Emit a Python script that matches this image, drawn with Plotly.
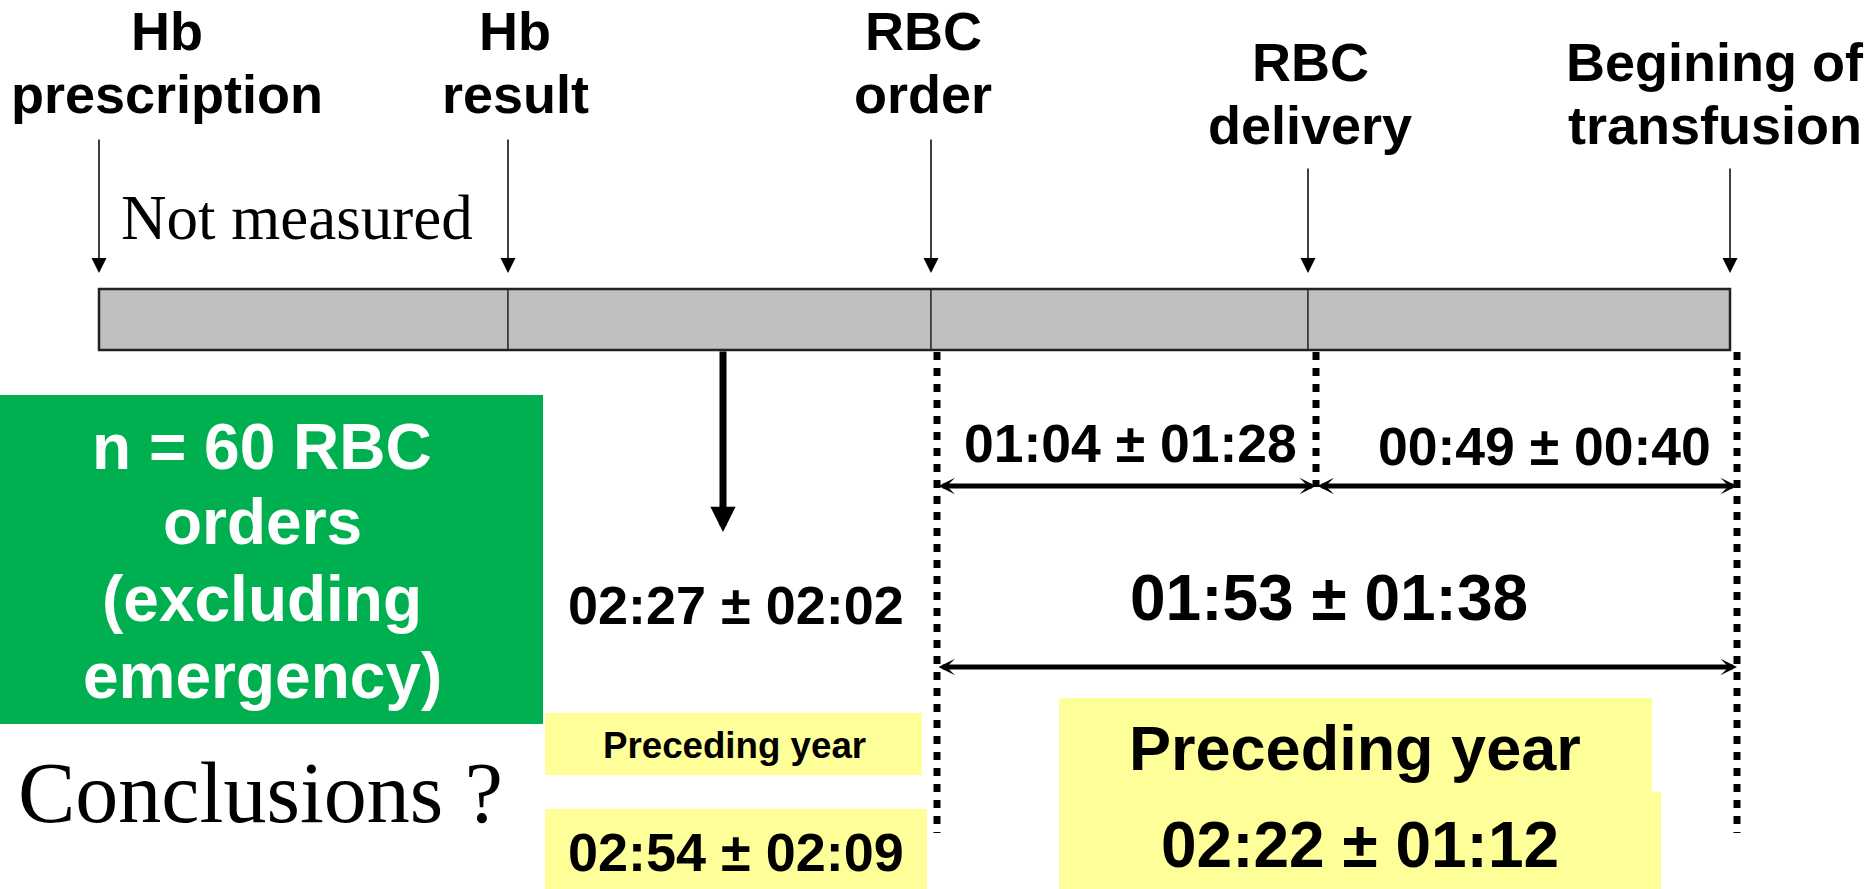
import plotly.graph_objects as go

# ---------------- data ----------------
event_top = ["Hb", "Hb", "RBC", "RBC", "Begining of"]
event_bottom = ["prescription", "result", "order", "delivery", "transfusion"]
segment_labels = ["Not measured", "02:27 \u00b1 02:02", "01:04 \u00b1 01:28", "00:49 \u00b1 00:40"]
total_label = "01:53 \u00b1 01:38"
sample_lines = ["n = 60 RBC", "orders", "(excluding", "emergency)"]
prev_small = ["Preceding year", "02:54 \u00b1 02:09"]
prev_big = ["Preceding year", "02:22 \u00b1 01:12"]
conclusion = "Conclusions ?"

# ---------------- layout geometry (pixels) ----------------
W, H = 1873, 889
event_x = [99, 508, 931, 1308, 1730]
label_x = [167, 515, 923, 1310, 1715]
label_y1 = [31, 31, 31, 62, 62]
label_y2 = [94, 94, 94, 125, 125]
arrow_top = [138, 138, 138, 167, 167]
arrow_tip = 273
bar_y0, bar_y1 = 289, 350
dot_x = [937, 1316, 1737]
dot_bottom = [833, 487, 833]
short_arrow_y = 486
long_arrow_y = 667

SANS = "Liberation Sans, Arial, sans-serif"
SERIF = "Liberation Serif, Times New Roman, serif"

fig = go.Figure()
fig.add_trace(go.Scatter(x=[0, W], y=[0, H], mode="markers", marker=dict(opacity=0), hoverinfo="skip"))

shapes = []
annotations = []


def text(x, y, s, size, family=SANS, color="black", bold=True):
    annotations.append(dict(
        x=x, y=y, xref="x", yref="y", text=s, showarrow=False,
        xanchor="center", yanchor="middle",
        font=dict(family=family, size=size, color=color, weight="bold" if bold else "normal"),
    ))


def arrow(x0, y0, x1, y1, width, size, head=2, both=False):
    annotations.append(dict(
        x=x1, y=y1, ax=x0, ay=y0, xref="x", yref="y", axref="x", ayref="y",
        text="", showarrow=True, arrowhead=head, arrowsize=size, arrowwidth=width,
        arrowcolor="black", arrowside="end+start" if both else "end",
        startarrowhead=head, startarrowsize=size,
    ))


def rect(x0, x1, y0, y1, color):
    shapes.append(dict(type="rect", xref="x", yref="y", x0=x0, x1=x1, y0=y0, y1=y1,
                       fillcolor=color, line=dict(width=0), layer="below"))


# green box
rect(0, 543, 395, 724, "#00B050")
# yellow boxes
rect(545, 922, 713, 775, "#FFFF99")
rect(545, 927, 809, 889, "#FFFF99")
rect(1059, 1652, 698, 793, "#FFFF99")
rect(1059, 1661, 792, 889, "#FFFF99")

# timeline bar segments
for i in range(len(event_x) - 1):
    shapes.append(dict(type="rect", xref="x", yref="y", x0=event_x[i], x1=event_x[i + 1],
                       y0=bar_y0, y1=bar_y1, fillcolor="#C0C0C0",
                       line=dict(color="#333333", width=1.5)))
shapes.append(dict(type="rect", xref="x", yref="y", x0=event_x[0], x1=event_x[-1],
                   y0=bar_y0, y1=bar_y1, fillcolor="rgba(0,0,0,0)",
                   line=dict(color="#222222", width=2.5)))

# dotted vertical guides
for x, yb in zip(dot_x, dot_bottom):
    shapes.append(dict(type="line", xref="x", yref="y", x0=x, x1=x, y0=bar_y1 + 2, y1=yb,
                       line=dict(color="black", width=7, dash="8px,8px")))

# event labels and arrows
for i, x in enumerate(event_x):
    text(label_x[i], label_y1[i], event_top[i], 54)
    text(label_x[i], label_y2[i], event_bottom[i], 54)
    arrow(x, arrow_top[i], x, arrow_tip, 1.5, 2.0)

# segment labels
text(297, 218, segment_labels[0], 63, family=SERIF, bold=False)
text(736, 605, segment_labels[1], 54)
text(1130, 443, segment_labels[2], 53.5)
text(1544, 446, segment_labels[3], 53.5)
text(1329, 598, total_label, 64)

# thick arrow down from the bar
arrow(723, bar_y1, 723, 532, 7, 0.72)

# double-headed arrows
arrow(dot_x[0], short_arrow_y, dot_x[1], short_arrow_y, 5, 0.55, head=3, both=True)
arrow(dot_x[1], short_arrow_y, dot_x[2], short_arrow_y, 5, 0.55, head=3, both=True)
arrow(dot_x[0], long_arrow_y, dot_x[2], long_arrow_y, 5, 0.55, head=3, both=True)

# green box text
for s, y in zip(sample_lines, [447, 522, 599, 676]):
    text(262, y, s, 64, color="white")

# conclusions
text(260, 793, conclusion, 86, family=SERIF, bold=False)

# preceding year (left)
text(734, 745, prev_small[0], 36.7)
text(736, 852, prev_small[1], 54)
# preceding year (right)
text(1355, 748, prev_big[0], 63)
text(1360, 845, prev_big[1], 64)

fig.update_layout(
    width=W, height=H,
    margin=dict(l=0, r=0, t=0, b=0),
    paper_bgcolor="white", plot_bgcolor="white",
    showlegend=False,
    xaxis=dict(range=[0, W], visible=False, fixedrange=True),
    yaxis=dict(range=[H, 0], visible=False, fixedrange=True),
    shapes=shapes, annotations=annotations,
)

fig.write_html("out.html", config={"displayModeBar": False},
               post_script="document.body.style.margin='0';document.body.style.overflow='hidden';")
